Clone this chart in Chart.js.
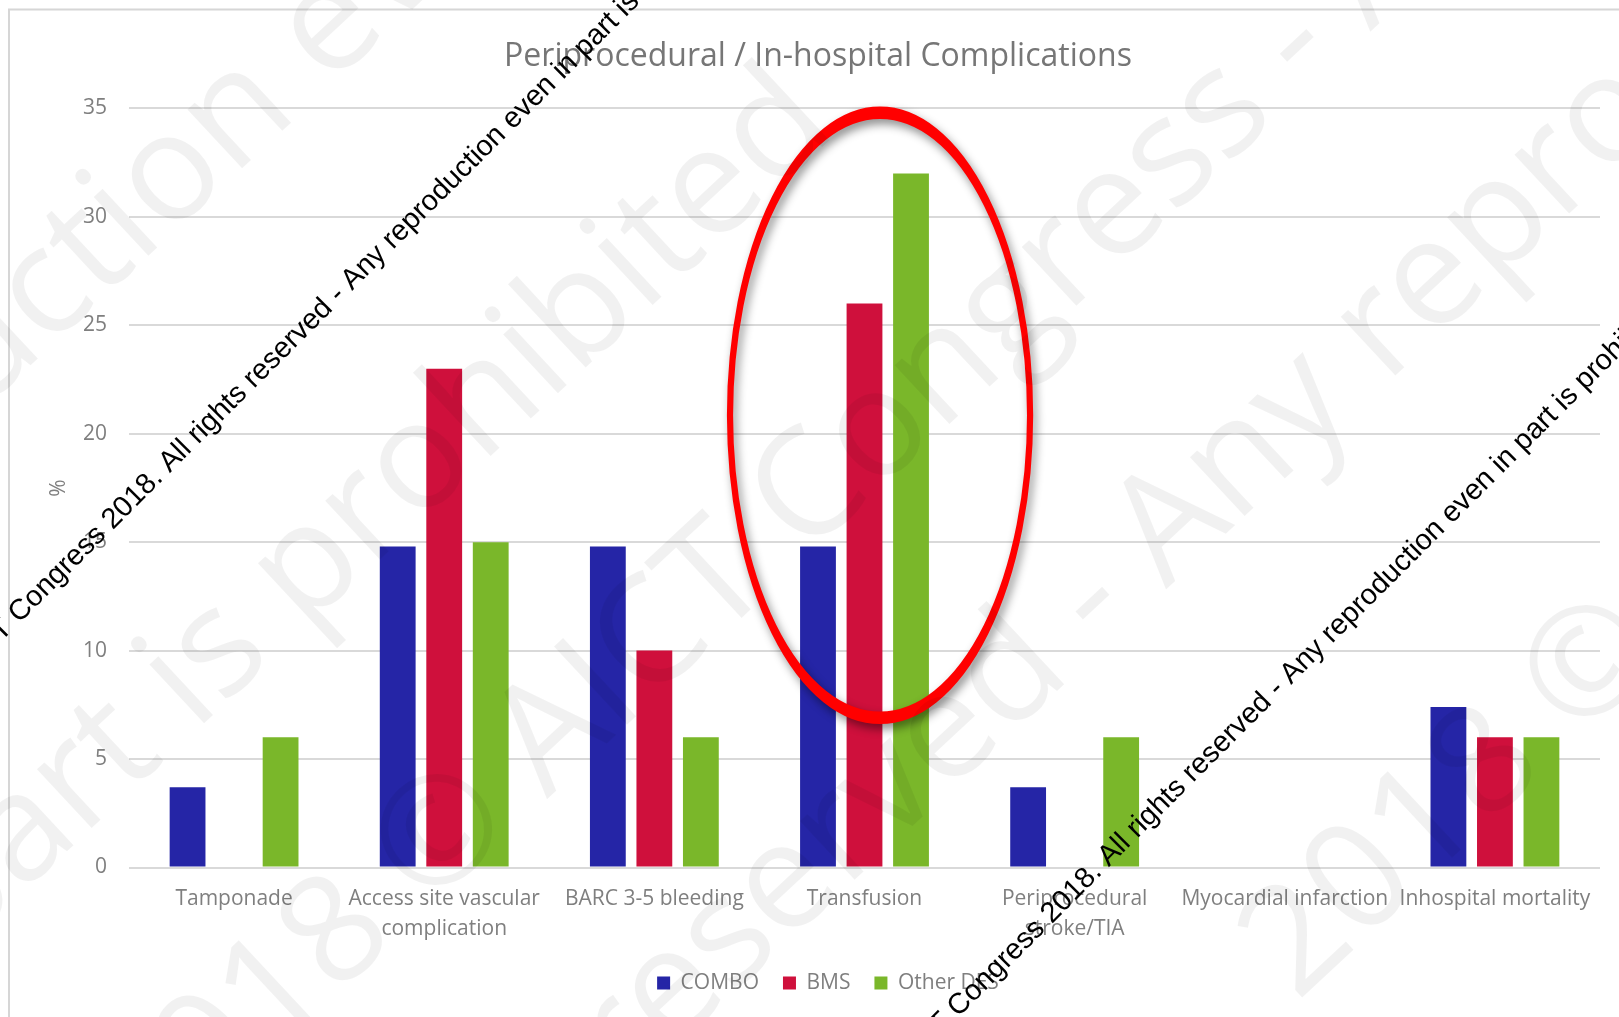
<!DOCTYPE html>
<html>
<head>
<meta charset="utf-8">
<title>Periprocedural / In-hospital Complications</title>
<script src="https://cdn.jsdelivr.net/npm/chart.js@4.4.1/dist/chart.umd.min.js"></script>
<style>
  html, body { margin: 0; padding: 0; background: #ffffff; overflow: hidden; }
  canvas { display: block; }
</style>
</head>
<body>
<canvas id="chart" width="1619" height="1017"></canvas>
<script>
// ---- data -------------------------------------------------------------
const categories = [
  "Tamponade",
  ["Access site vascular", "complication"],
  "BARC 3-5 bleeding",
  "Transfusion",
  ["Periprocedural", "stroke/TIA"],
  "Myocardial infarction",
  "Inhospital mortality"
];
const seriesNames = ["COMBO", "BMS", "Other DES"];
const comboValues = [3.7, 14.8, 14.8, 14.8, 3.7, 0, 7.4];
const bmsValues   = [0, 23, 10, 26, 0, 0, 6];
const otherValues = [6, 15, 6, 32, 6, 0, 6];
const yTicks = [0, 5, 10, 15, 20, 25, 30, 35];
const titleText = "Periprocedural / In-hospital Complications";
const yTitle = "%";

// circled group (Transfusion), centre value and half-height in axis units
const highlight = { category: 3, value: 20.85, halfSpan: 13.95 };

// copyright notices laid over the slide
const notice = "\u00A9 AICT Congress 2018. All rights reserved - Any reproduction even in part is prohibited";
const stampLines = [
  { text: "Any reproduction even in part", sub: "tion", k: 1, x: 116, y: 212 },
  { text: "reproduction even in part is prohibited", sub: "prohibited", k: 0, x: 300, y: 560 },
  { text: "2018 \u00A9 AICT Congress - All", sub: "\u00A9", k: 0, x: 436, y: 829 },
  { text: "All rights reserved - Any reproduction", sub: "- Any", k: 0, x: 1083, y: 593 },
  { text: "2018 \u00A9 AICT Congress", sub: "\u00A9", k: 0, x: 1585, y: 660 }
];

const colors = ["#2525A6", "#CF103C", "#7AB72A"];
const axisGray = "#7f7f7f";
const FONT = "'Open Sans', 'Noto Sans', sans-serif";

Chart.defaults.font.family = FONT;
Chart.defaults.color = axisGray;

// ---- overlay drawing -------------------------------------------------
function drawRotated(ctx, text, sub, k, ax, ay, size, family, angleDeg, color, centred) {
  ctx.save();
  ctx.font = size + "px " + family;
  const i = text.indexOf(sub) + k;
  const pre = ctx.measureText(text.slice(0, i)).width;
  const w = ctx.measureText(text.charAt(i)).width;
  ctx.translate(ax, ay);
  ctx.rotate(-angleDeg * Math.PI / 180);
  ctx.fillStyle = color;
  ctx.textBaseline = "alphabetic";
  if (centred) {
    ctx.fillText(text, -(pre + w / 2), size * 0.36);
  } else {
    ctx.fillText(text, -pre, 0);
  }
  ctx.restore();
}

const overlay = {
  id: "overlay",
  afterLayout(chart) {
    // legend block sits a little right of the chart centre
    if (chart.legend) {
      chart.legend.left += 10;
      chart.legend.right += 10;
    }
  },
  beforeDraw(chart) {
    const ctx = chart.ctx;
    ctx.save();
    ctx.fillStyle = "#ffffff";
    ctx.fillRect(0, 0, chart.width, chart.height);
    // outer chart frame
    ctx.strokeStyle = "#d6d6d6";
    ctx.lineWidth = 2;
    ctx.strokeRect(9, 9.5, chart.width + 200, chart.height + 200);
    ctx.restore();
  },
  afterDatasetsDraw(chart) {
    const ctx = chart.ctx;
    const xs = chart.scales.x, ys = chart.scales.y;
    const cw = xs.width / categories.length;
    const cx = xs.getPixelForValue(highlight.category) + 0.074 * cw;
    const cy = ys.getPixelForValue(highlight.value);
    const ry = ys.getPixelForValue(0) - ys.getPixelForValue(highlight.halfSpan);
    const rx = 0.714 * cw;
    ctx.save();
    ctx.shadowColor = "rgba(0,0,0,0.45)";
    ctx.shadowBlur = 10;
    ctx.shadowOffsetX = 3;
    ctx.shadowOffsetY = 5;
    ctx.translate(cx, cy);
    ctx.scale(1, ry / rx);
    ctx.beginPath();
    ctx.arc(0, 0, rx, 0, Math.PI * 2);
    ctx.lineWidth = 6.2;
    ctx.strokeStyle = "#ff0000";
    ctx.stroke();
    ctx.restore();
  },
  afterDraw(chart) {
    const ctx = chart.ctx;
    // large faint stamp
    stampLines.forEach(s => {
      drawRotated(ctx, s.text, s.sub, s.k, s.x, s.y, 150, FONT, 43, "rgba(0,0,0,0.055)", true);
    });
    // black diagonal notice
    drawRotated(ctx, notice, "Any", 0, 352, 291, 29, "'Liberation Sans', Arial, sans-serif", 45, "#000000", false);
    drawRotated(ctx, notice, "Any", 0, 1291, 685, 29, "'Liberation Sans', Arial, sans-serif", 45, "#000000", false);
  }
};

// ---- chart -------------------------------------------------------------
new Chart(document.getElementById("chart"), {
  type: "bar",
  data: {
    labels: categories,
    datasets: [
      { label: seriesNames[0], data: comboValues, backgroundColor: colors[0] },
      { label: seriesNames[1], data: bmsValues, backgroundColor: colors[1] },
      { label: seriesNames[2], data: otherValues, backgroundColor: colors[2] }
    ]
  },
  options: {
    responsive: false,
    animation: false,
    devicePixelRatio: 1,
    layout: { padding: { left: 36, right: 19, top: 0, bottom: 13.5 } },
    datasets: { bar: { categoryPercentage: 0.664, barPercentage: 0.77, borderWidth: 0 } },
    plugins: {
      title: {
        display: true,
        text: titleText,
        color: "#767676",
        font: { size: 32, weight: "normal", family: FONT, lineHeight: 1.2 },
        padding: { top: 37.8, bottom: 32.2 }
      },
      legend: {
        position: "bottom",
        labels: {
          boxWidth: 13,
          boxHeight: 13,
          padding: 24,
          color: axisGray,
          font: { size: 21, family: FONT }
        }
      },
      tooltip: { enabled: false }
    },
    scales: {
      x: {
        grid: { display: false, drawTicks: false },
        border: { display: false },
        ticks: {
          color: axisGray,
          padding: 16.7,
          maxRotation: 0,
          autoSkip: false,
          font: { size: 21, family: FONT, lineHeight: 30 / 21 }
        },
        afterFit(scale) { scale.height = 81; }
      },
      y: {
        min: 0,
        max: 35,
        grid: { color: "#d9d9d9", lineWidth: 2, drawTicks: false },
        border: { display: false },
        ticks: {
          color: axisGray,
          padding: 22,
          font: { size: 21, family: FONT }
        },
        afterBuildTicks(scale) { scale.ticks = yTicks.map(v => ({ value: v })); },
        title: {
          display: true,
          text: yTitle,
          color: axisGray,
          font: { size: 21, family: FONT, lineHeight: 1.2 },
          padding: { top: 10.4, bottom: 0 }
        },
        afterFit(scale) { scale.width = 93; }
      }
    }
  },
  plugins: [overlay]
});
</script>
</body>
</html>
